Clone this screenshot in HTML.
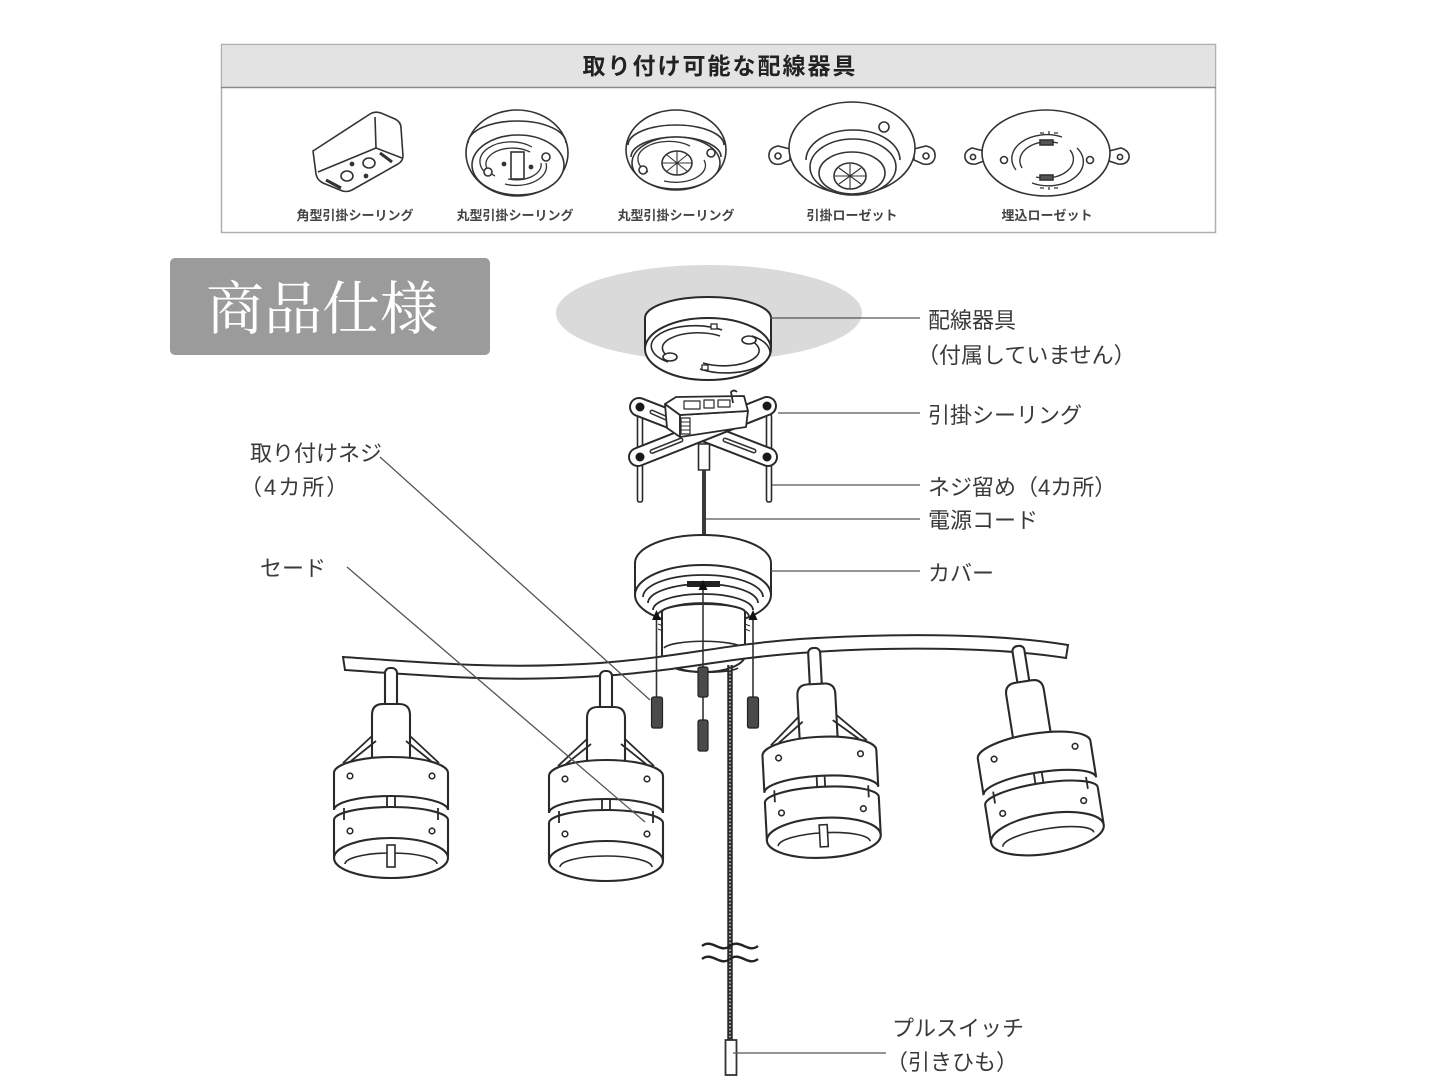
<!DOCTYPE html>
<html><head><meta charset="utf-8">
<style>
html,body{margin:0;padding:0;background:#fff;}
svg{display:block;}
text{font-family:"Liberation Sans","Noto Sans CJK JP",sans-serif;}
</style></head><body>
<svg width="1440" height="1085" viewBox="0 0 1440 1085" xmlns="http://www.w3.org/2000/svg">
<rect width="1440" height="1085" fill="#fff"/>

<!-- ===== Top box ===== -->
<rect x="221.5" y="44.5" width="994" height="188" fill="#fff" stroke="#b0b0b0" stroke-width="1.5"/>
<rect x="222.25" y="45.25" width="992.5" height="42" fill="#e3e3e3"/>
<line x1="221" y1="87.5" x2="1216" y2="87.5" stroke="#8a8a8a" stroke-width="1.5"/>
<text x="720" y="74" text-anchor="middle" font-size="23" font-weight="bold" letter-spacing="2" fill="#222">取り付け可能な配線器具</text>

<g stroke="#333" stroke-width="1.6" fill="#fff">
  <!-- icon 1 box -->
  <path d="M313,151 L370,114 Q375,111 381,113 L395,119 Q401,122 401,128 L403,156 Q403,161 398,164 L352,190 Q346,193 340,190 L323,183 Q317,180 316,174 Z"/>
  <line x1="375" y1="117" x2="376" y2="148"/>
  <path d="M318,172 L376,148 L402,158" fill="none"/>
  <ellipse cx="347" cy="176" rx="6" ry="5"/>
  <ellipse cx="369" cy="163" rx="6" ry="5"/>
  <path d="M326,180 L341,188" fill="none" stroke-width="3"/>
  <path d="M380,153 L392,162" fill="none" stroke-width="3"/>
  <circle cx="352" cy="164" r="1.6" fill="#333"/>
  <circle cx="366" cy="176" r="1.6" fill="#333"/>

  <!-- icon 2 round -->
  <ellipse cx="517" cy="153" rx="51" ry="43"/>
  <path d="M468,143 A49,22 0 0 1 566,143" fill="none"/>
  <ellipse cx="518" cy="165" rx="46" ry="30"/>
  <path d="M490,176 A30,19 0 0 1 532,147" fill="none" stroke-width="1.3"/>
  <path d="M495,176 A25,15 0 0 1 530,152" fill="none" stroke-width="1.3"/>
  <path d="M546,163 A30,19 0 0 1 505,184" fill="none" stroke-width="1.3"/>
  <path d="M541,163 A25,15 0 0 1 508,179" fill="none" stroke-width="1.3"/>
  <rect x="511" y="152" width="13" height="27"/>
  <circle cx="488" cy="172" r="4"/>
  <circle cx="546" cy="157" r="4"/>
  <circle cx="504" cy="164" r="1.6" fill="#333"/>
  <circle cx="531" cy="167" r="1.6" fill="#333"/>

  <!-- icon 3 round -->
  <ellipse cx="676" cy="150" rx="50" ry="40"/>
  <path d="M628,145 A48,20 0 0 1 724,145" fill="none"/>
  <path d="M631,157 A45,20 0 0 1 721,157" fill="none"/>
  <ellipse cx="676" cy="163" rx="44" ry="26"/>
  <path d="M648,172 A30,17 0 0 1 690,146" fill="none" stroke-width="1.3"/>
  <path d="M704,160 A30,17 0 0 1 664,181" fill="none" stroke-width="1.3"/>
  <ellipse cx="677" cy="163" rx="15" ry="12"/>
  <path d="M667,155 L687,171 M687,155 L667,171 M677,151 L677,175 M662,163 L692,163" fill="none" stroke-width="1.1"/>
  <circle cx="643" cy="170" r="4"/>
  <circle cx="711" cy="153" r="4"/>

  <!-- icon 4 rosette -->
  <path d="M790,149 L778,146 Q768,148 769,157 Q771,166 781,164 L790,160 Z"/>
  <circle cx="778" cy="156" r="3"/>
  <path d="M914,149 L926,146 Q936,148 935,157 Q933,166 923,164 L914,160 Z"/>
  <circle cx="926" cy="156" r="3"/>
  <ellipse cx="852" cy="148" rx="63" ry="46"/>
  <circle cx="884" cy="127" r="5"/>
  <path d="M806,160 A47,30 0 0 1 900,160" fill="none"/>
  <ellipse cx="853" cy="167" rx="43" ry="28"/>
  <ellipse cx="852" cy="173" rx="33" ry="21"/>
  <ellipse cx="850" cy="176" rx="16" ry="13"/>
  <path d="M839,168 L861,184 M861,168 L839,184 M850,164 L850,189 M835,176 L866,176" fill="none" stroke-width="1.1"/>

  <!-- icon 5 embedded -->
  <path d="M984,151 L972,148 Q964,151 965,158 Q967,165 976,164 L984,161 Z"/>
  <circle cx="973" cy="157" r="2.6"/>
  <path d="M1109,151 L1121,148 Q1130,151 1129,158 Q1127,165 1118,164 L1109,161 Z"/>
  <circle cx="1120" cy="157" r="2.6"/>
  <ellipse cx="1046" cy="153" rx="64" ry="43"/>
  <path d="M1016,170 A35,24 0 0 1 1062,137" fill="none" stroke-width="1.4"/>
  <path d="M1022,168 A28,19 0 0 1 1058,143" fill="none" stroke-width="1.4"/>
  <path d="M1077,148 A35,24 0 0 1 1032,183" fill="none" stroke-width="1.4"/>
  <path d="M1070,150 A28,19 0 0 1 1036,177" fill="none" stroke-width="1.4"/>
  <circle cx="1004" cy="160" r="3.5"/>
  <circle cx="1090" cy="160" r="3.5"/>
  <rect x="1040" y="140" width="13" height="5" fill="#555"/>
  <rect x="1040" y="175" width="13" height="5" fill="#555"/>
  <path d="M1040,133 L1044,133 M1049,131 L1049,134 M1054,133 L1058,133 M1040,188 L1044,188 M1049,187 L1049,190 M1054,188 L1058,188" fill="none" stroke-width="1.3"/>
</g>

<g font-size="13" font-weight="bold" fill="#444" text-anchor="middle">
  <text x="355" y="220">角型引掛シーリング</text>
  <text x="515" y="220">丸型引掛シーリング</text>
  <text x="676" y="220">丸型引掛シーリング</text>
  <text x="852" y="220">引掛ローゼット</text>
  <text x="1047" y="220">埋込ローゼット</text>
</g>

<!-- ===== 商品仕様 label ===== -->
<rect x="170" y="258" width="320" height="97" rx="5" fill="#9b9b9b"/>
<text x="206" y="329" font-size="58" fill="#fff" style="font-family:'Liberation Serif','Noto Serif CJK SC',serif;">商品仕様</text>

<!-- ===== Wiring device ===== -->
<ellipse cx="709" cy="313" rx="153" ry="48" fill="#dadada"/>
<g stroke="#2a2a2a" stroke-width="2" fill="#fff">
  <path d="M645,318 A63,21 0 0 1 771,318 L771,349 A63,31 0 0 1 645,349 Z"/>
  <path d="M645,349 A63,31 0 0 1 771,349" fill="none"/>
  <path d="M668,362 A43,20 0 0 1 722,330" fill="none" stroke-width="1.6"/>
  <path d="M676,360 A35,15 0 0 1 720,336" fill="none" stroke-width="1.6"/>
  <path d="M752,336 A43,20 0 0 1 700,369" fill="none" stroke-width="1.6"/>
  <path d="M744,338 A35,15 0 0 1 703,363" fill="none" stroke-width="1.6"/>
  <ellipse cx="670" cy="357" rx="7" ry="4" stroke-width="1.6"/>
  <ellipse cx="749" cy="340" rx="7" ry="4" stroke-width="1.6"/>
  <rect x="711" y="324" width="6" height="5" stroke-width="1.3"/>
  <rect x="702" y="365" width="6" height="5" stroke-width="1.3"/>
</g>

<!-- ===== Bracket (引掛シーリング) ===== -->
<g stroke="#2a2a2a" stroke-width="1.6" fill="#fff">
  <rect x="637.5" y="414" width="5" height="88" rx="2"/>
  <rect x="766.5" y="414" width="5" height="88" rx="2"/>
</g>
<line x1="639" y1="407" x2="768" y2="457" stroke="#2a2a2a" stroke-width="20" stroke-linecap="round"/>
<line x1="639" y1="407" x2="768" y2="457" stroke="#fff" stroke-width="16" stroke-linecap="round"/>
<line x1="638" y1="457" x2="767" y2="406" stroke="#2a2a2a" stroke-width="20" stroke-linecap="round"/>
<line x1="638" y1="457" x2="767" y2="406" stroke="#fff" stroke-width="16" stroke-linecap="round"/>
<g stroke-linecap="round">
  <line x1="652" y1="451.5" x2="681" y2="440" stroke="#333" stroke-width="5"/>
  <line x1="652" y1="451.5" x2="681" y2="440" stroke="#fff" stroke-width="2"/>
  <line x1="754" y1="451" x2="725" y2="440" stroke="#333" stroke-width="5"/>
  <line x1="754" y1="451" x2="725" y2="440" stroke="#fff" stroke-width="2"/>
  <line x1="652" y1="412" x2="668" y2="419" stroke="#333" stroke-width="5"/>
  <line x1="652" y1="412" x2="668" y2="419" stroke="#fff" stroke-width="2"/>
</g>
<g fill="#1a1a1a">
  <circle cx="640" cy="407" r="4.5"/>
  <circle cx="767" cy="406" r="4.5"/>
  <circle cx="640" cy="457" r="4.5"/>
  <circle cx="767" cy="457" r="4.5"/>
</g>
<g stroke="#2a2a2a" stroke-width="1.8" fill="#fff" stroke-linejoin="round">
  <path d="M665,404 L680,415 L680,437 L667,428 Z"/>
  <path d="M680,415 L748,411 L746,427 L680,437 Z"/>
  <path d="M665,404 L676,397 L744,396 L748,411 L680,415 Z"/>
  <path d="M733,403 L731,392 Q734,389 737,392" fill="none"/>
  <rect x="684" y="401" width="16" height="8" stroke-width="1.2"/>
  <rect x="704" y="400" width="10" height="8" stroke-width="1.2"/>
  <rect x="718" y="400" width="12" height="7" stroke-width="1.2"/>
  <rect x="681" y="418" width="9" height="16" stroke-width="1.2"/>
  <path d="M681,422 L690,422 M681,426 L690,426 M681,430 L690,430" fill="none" stroke-width="1"/>
  <rect x="698.5" y="444" width="11" height="26" stroke-width="1.6"/>
</g>
<line x1="704" y1="470" x2="704" y2="537" stroke="#3a3a3a" stroke-width="4"/>

<!-- ===== Cover ===== -->
<g stroke="#2a2a2a" stroke-width="2" fill="#fff">
  <path d="M635,563 A68,28 0 0 1 771,563 L771,595 A68,30 0 0 1 635,595 Z"/>
  <path d="M635,595 A68,30 0 0 1 771,595" fill="none"/>
  <path d="M643,597 A60,22 0 0 1 763,597" fill="none" stroke-width="1.8"/>
  <path d="M648,603 A55,19 0 0 1 758,603" fill="none" stroke-width="1.8"/>
  <path d="M653,610 A50,16 0 0 1 753,610" fill="none" stroke-width="1.8"/>
  <path d="M657,617 A46,14 0 0 1 749,617" fill="none" stroke-width="1.8"/>
  <path d="M662,612 L662,655 A41.5,17 0 0 0 745,655 L745,612 A41.5,8 0 0 0 662,612 Z"/>
  <path d="M664,648 A40,8 0 0 1 743,648" fill="none" stroke-width="1.6"/>
</g>
<rect x="687" y="581" width="33" height="6" fill="#222"/>
<g stroke="#333" stroke-width="1.2"><path d="M658,624 L663,626 M658,629 L663,631 M745,624 L750,626 M745,629 L750,631"/></g>

<!-- ===== Bar ===== -->
<path d="M343,657 C420,662 500,670 600,663 C680,657 720,645 800,639 C880,634 990,632 1068,645 L1066,658 C990,646 880,647 800,653 C720,659 680,671 600,676 C500,683 420,675 345,670 Z" fill="#fff" stroke="#2a2a2a" stroke-width="2"/>
<path d="M675,668 A32,5 0 0 0 738,668" fill="none" stroke="#2a2a2a" stroke-width="1.8"/>

<!-- ===== Lamps ===== -->
<defs>
  <g id="shade" stroke="#2a2a2a" stroke-width="2.1" fill="#fff">
    <rect x="-6" y="-2" width="12" height="42" rx="5"/>
    <path d="M-19,100 L-19,45 Q-19,34 -8,34 L8,34 Q19,34 19,45 L19,100"/>
    <path d="M-57,150 A57,13 0 0 1 57,150 L57,188 A57,20 0 0 1 -57,188 Z"/>
    <path d="M-57,188 A57,20 0 0 1 57,188" fill="none"/>
    <path d="M-46,194 A46,11 0 0 1 46,194" fill="none" stroke-width="1.6"/>
    <path d="M-47,138 L-47,150 M47,138 L47,150 M-4,127 L-4,138 M4,127 L4,138" fill="none" stroke-width="1.8"/>
    <path d="M-57,103 A57,16 0 0 1 57,103 L57,140 A57,14 0 0 0 -57,140 Z"/>
    <circle cx="-41" cy="106" r="2.8" stroke-width="1.6"/>
    <circle cx="41" cy="106" r="2.8" stroke-width="1.6"/>
    <circle cx="-41" cy="161" r="2.8" stroke-width="1.6"/>
    <circle cx="41" cy="161" r="2.8" stroke-width="1.6"/>
  </g>
  <g id="struts" stroke="#2a2a2a" stroke-width="1.8" fill="none">
    <path d="M-19,66 L-48,93 M-15,71 L-40,91 M19,66 L48,93 M15,71 L40,91"/>
  </g>
</defs>
<g transform="translate(391,670)"><use href="#shade"/><use href="#struts"/>
  <rect x="-4" y="175" width="8" height="22" fill="#fff" stroke="#2a2a2a" stroke-width="1.6"/></g>
<g transform="translate(606,673)"><use href="#shade"/><use href="#struts"/></g>
<g transform="translate(814,650) rotate(-3)"><use href="#shade"/><use href="#struts"/>
  <rect x="-4" y="175" width="8" height="22" fill="#fff" stroke="#2a2a2a" stroke-width="1.6"/></g>
<g transform="translate(1018,648) rotate(-9)"><use href="#shade"/></g>

<!-- ===== Arrows & screws ===== -->
<g stroke="#333" stroke-width="1.6">
  <line x1="656.5" y1="697" x2="656.5" y2="618"/>
  <line x1="703" y1="667" x2="703" y2="588"/>
  <line x1="703" y1="697" x2="703" y2="720"/>
  <line x1="753" y1="697" x2="753" y2="618"/>
</g>
<g fill="#111">
  <polygon points="656.5,610 652,620 661,620"/>
  <polygon points="703,580 698.5,590 707.5,590"/>
  <polygon points="753,610 748.5,620 757.5,620"/>
</g>
<g fill="#4a4a4a" stroke="#222" stroke-width="1.2">
  <rect x="651.5" y="697" width="11" height="31" rx="2"/>
  <rect x="698" y="667" width="10" height="30" rx="2"/>
  <rect x="698" y="720" width="10" height="31" rx="2"/>
  <rect x="747.5" y="697" width="11" height="31" rx="2"/>
</g>

<!-- ===== Chain & pull switch ===== -->
<line x1="730" y1="665" x2="730" y2="1040" stroke="#2a2a2a" stroke-width="5.5"/>
<line x1="730" y1="665" x2="730" y2="1040" stroke="#bbb" stroke-width="1.8" stroke-dasharray="1.6 2"/>
<path d="M702,946 C712,938 720,954 730,946 C740,938 748,954 758,946" fill="none" stroke="#222" stroke-width="2.4"/>
<path d="M702,959 C712,951 720,967 730,959 C740,951 748,967 758,959" fill="none" stroke="#222" stroke-width="2.4"/>
<rect x="725.5" y="1040" width="11" height="35" fill="#fff" stroke="#333" stroke-width="1.8"/>

<!-- ===== Leader lines ===== -->
<g stroke="#555" stroke-width="1.3">
  <line x1="770" y1="318" x2="920" y2="318"/>
  <line x1="778" y1="413" x2="920" y2="413"/>
  <line x1="772" y1="485" x2="920" y2="485"/>
  <line x1="706" y1="519" x2="920" y2="519"/>
  <line x1="771" y1="571" x2="920" y2="571"/>
  <line x1="733" y1="1053" x2="886" y2="1053"/>
  <line x1="380" y1="457" x2="650" y2="700"/>
  <line x1="347" y1="567" x2="645" y2="822"/>
</g>

<!-- ===== Labels ===== -->
<g font-size="22" fill="#3a3a3a">
  <text x="928" y="328">配線器具</text>
  <text x="917" y="363">（付属していません）</text>
  <text x="928" y="423">引掛シーリング</text>
  <text x="928" y="495">ネジ留め（4カ所）</text>
  <text x="928" y="528">電源コード</text>
  <text x="928" y="581">カバー</text>
  <text x="250" y="461">取り付けネジ</text>
  <text x="240" y="495" letter-spacing="2">（4カ所）</text>
  <text x="260" y="576">セード</text>
  <text x="892" y="1036">プルスイッチ</text>
  <text x="886" y="1070">（引きひも）</text>
</g>
</svg>
</body></html>
